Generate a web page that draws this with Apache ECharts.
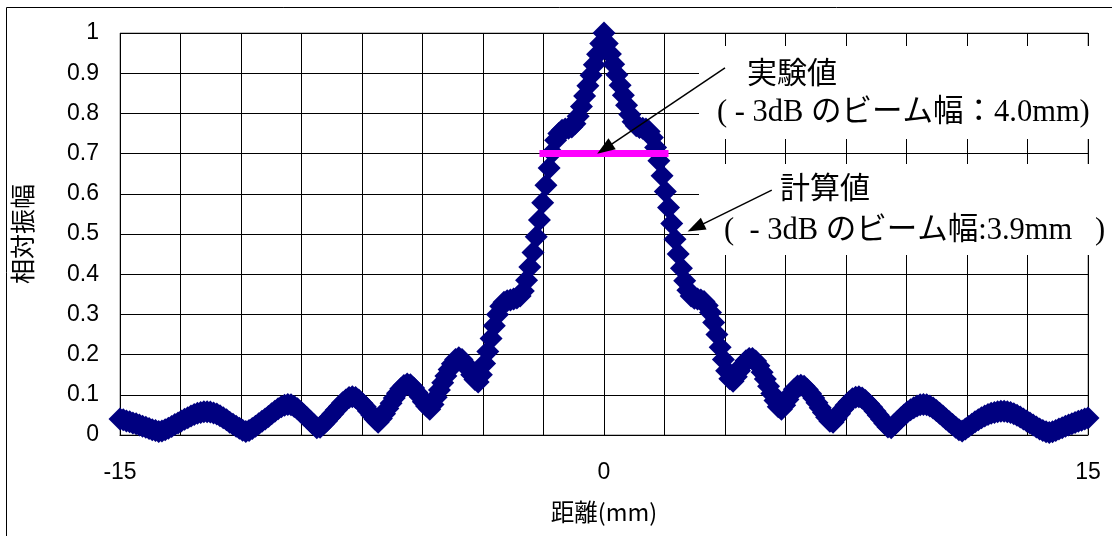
<!DOCTYPE html>
<html>
<head>
<meta charset="utf-8">
<title>相対振幅</title>
<script src="https://cdn.jsdelivr.net/npm/echarts@6/dist/echarts.min.js"></script>
<style>
  html, body { margin: 0; padding: 0; background: #fff; }
  #chart { width: 1112px; height: 536px; }
</style>
</head>
<body>
<div id="chart"></div>
<script>
// Scan step along the distance axis (mm)
const SAMPLE_STEP_MM = 0.1;

// Relative amplitude, -15.0 mm ... -4.0 mm
const leftStartMm = -15.0;
const ampLeft = [
  0.040, 0.038, 0.035, 0.033, 0.030, 0.028, 0.025, 0.022, 0.019, 0.016,
  0.013, 0.011, 0.009, 0.010, 0.013, 0.017, 0.021, 0.026, 0.030, 0.035,
  0.039, 0.043, 0.047, 0.051, 0.054, 0.056, 0.058, 0.058, 0.057, 0.055,
  0.052, 0.048, 0.043, 0.038, 0.032, 0.027, 0.022, 0.017, 0.012, 0.009,
  0.011, 0.016, 0.022, 0.028, 0.034, 0.040, 0.046, 0.053, 0.059, 0.065,
  0.070, 0.074, 0.076, 0.075, 0.071, 0.065, 0.058, 0.050, 0.042, 0.034,
  0.026, 0.018, 0.019, 0.027, 0.035, 0.044, 0.053, 0.062, 0.071, 0.080,
  0.087, 0.093, 0.095, 0.093, 0.087, 0.079, 0.070, 0.060, 0.050, 0.040,
  0.032, 0.041, 0.053, 0.066, 0.079, 0.092, 0.104, 0.115, 0.123, 0.127,
  0.125, 0.117, 0.106, 0.095, 0.083, 0.072, 0.064, 0.076, 0.094, 0.112,
  0.130, 0.147, 0.163, 0.177, 0.188, 0.192, 0.188, 0.177, 0.164, 0.150,
  0.138
];

// Relative amplitude, main lobe -3.9 mm ... 3.9 mm
const mainStartMm = -3.9;
const ampMain = [
  0.132, 0.150, 0.178, 0.208, 0.240, 0.272, 0.300, 0.320, 0.330, 0.334,
  0.336, 0.338, 0.341, 0.346, 0.358, 0.385, 0.418, 0.454, 0.493, 0.535,
  0.578, 0.621, 0.664, 0.703, 0.733, 0.750, 0.758, 0.761, 0.763, 0.766,
  0.774, 0.793, 0.817, 0.843, 0.869, 0.895, 0.921, 0.947, 0.974, 1.000,
  0.974, 0.948, 0.922, 0.896, 0.870, 0.845, 0.820, 0.797, 0.779, 0.769,
  0.765, 0.763, 0.761, 0.755, 0.740, 0.715, 0.682, 0.645, 0.606, 0.566,
  0.526, 0.487, 0.450, 0.415, 0.384, 0.360, 0.346, 0.340, 0.338, 0.336,
  0.332, 0.322, 0.305, 0.280, 0.250, 0.218, 0.188, 0.160, 0.140
];

// Relative amplitude, 4.0 mm ... 15.0 mm
const rightStartMm = 4.0;
const ampRight = [
  0.134, 0.145, 0.160, 0.174, 0.185, 0.190, 0.190, 0.184, 0.172, 0.156,
  0.139, 0.121, 0.103, 0.086, 0.070, 0.064, 0.074, 0.088, 0.102, 0.114,
  0.122, 0.124, 0.121, 0.113, 0.103, 0.092, 0.080, 0.068, 0.056, 0.044,
  0.034, 0.032, 0.042, 0.053, 0.064, 0.074, 0.083, 0.090, 0.094, 0.095,
  0.092, 0.086, 0.078, 0.069, 0.059, 0.049, 0.039, 0.029, 0.020, 0.018,
  0.026, 0.034, 0.042, 0.050, 0.057, 0.063, 0.068, 0.072, 0.075, 0.076,
  0.075, 0.072, 0.067, 0.061, 0.054, 0.047, 0.040, 0.033, 0.026, 0.019,
  0.013, 0.010, 0.015, 0.021, 0.027, 0.033, 0.038, 0.043, 0.047, 0.051,
  0.054, 0.056, 0.058, 0.059, 0.059, 0.058, 0.056, 0.053, 0.049, 0.045,
  0.040, 0.035, 0.030, 0.025, 0.020, 0.015, 0.011, 0.008, 0.006, 0.008,
  0.011, 0.015, 0.018, 0.022, 0.025, 0.028, 0.031, 0.034, 0.037, 0.040,
  0.042
];

// Axis tick labels shown on the distance axis
const xTickLabels = [-15, 0, 15];

// -3 dB beam widths (mm) and the -3 dB level
const expBeamWidthMm = 4.0;
const calcBeamWidthMm = 3.9;
const minus3dBLevel = 0.7;

// Leader arrows [from, to] in axis units (distance mm, relative amplitude)
const arrowExp = [[3.75, 0.913], [0.02, 0.712]];
const arrowCalc = [[5.20, 0.609], [2.84, 0.516]];

const toPoints = (startMm, values) =>
  values.map((v, i) => [+(startMm + i * SAMPLE_STEP_MM).toFixed(1), v]);

const measured = [].concat(
  toPoints(leftStartMm, ampLeft),
  toPoints(mainStartMm, ampMain),
  toPoints(rightStartMm, ampRight)
);

const beamLine = [
  [-expBeamWidthMm / 2, minus3dBLevel],
  [expBeamWidthMm / 2, minus3dBLevel]
];

const SANS = '"Liberation Sans", Arial, sans-serif';
const CJK = '"Noto Sans CJK JP", sans-serif';
const SERIF_CJK = '"Liberation Serif", "Noto Sans CJK JP", serif';

const chart = echarts.init(document.getElementById('chart'));

chart.setOption({
  animation: false,
  backgroundColor: '#ffffff',
  grid: {
    left: 120, top: 33, width: 968, height: 402,
    show: true, borderColor: '#808080', borderWidth: 1,
    backgroundColor: 'transparent'
  },
  xAxis: {
    type: 'value',
    min: -15, max: 15, interval: 1.875,
    name: '距離(mm)',
    nameLocation: 'middle',
    nameGap: 65,
    nameTextStyle: { fontFamily: CJK, fontSize: 23.5, color: '#000' },
    axisLine: { show: true, onZero: false, lineStyle: { color: '#000', width: 1 } },
    axisTick: { show: false },
    axisLabel: {
      margin: 26, fontFamily: SANS, fontSize: 23, color: '#000',
      formatter: v => (xTickLabels.indexOf(v) >= 0 ? String(v) : '')
    },
    splitLine: { show: true, lineStyle: { color: '#000', width: 1 } }
  },
  yAxis: {
    type: 'value',
    min: 0, max: 1, interval: 0.1,
    name: '相対振幅',
    nameLocation: 'middle',
    nameRotate: 90,
    nameGap: 85,
    nameTextStyle: { fontFamily: CJK, fontSize: 25, color: '#000' },
    axisLine: { show: true, lineStyle: { color: '#000', width: 1 } },
    axisTick: { show: false },
    axisLabel: { margin: 21, fontFamily: SANS, fontSize: 23, color: '#000' },
    splitLine: { show: true, lineStyle: { color: '#000', width: 1 } }
  },
  graphic: [
    {
      type: 'rect', z: -1, silent: true,
      shape: { x: 6.5, y: 7.5, width: 1200, height: 600 },
      style: { fill: 'none', stroke: '#000', lineWidth: 1 }
    },
    {
      type: 'rect', z: 1, silent: true,
      shape: { x: 699, y: 46, width: 400, height: 93 },
      style: { fill: '#fff' }
    },
    {
      type: 'rect', z: 1, silent: true,
      shape: { x: 699, y: 164, width: 413, height: 91 },
      style: { fill: '#fff' }
    },
    {
      type: 'text', z: 10, silent: true,
      style: { text: '実験値', x: 747, y: 72, verticalAlign: 'middle',
               fontFamily: CJK, fontSize: 30, fill: '#000' }
    },
    {
      type: 'text', z: 10, silent: true,
      style: { text: '( - 3dB のビーム幅：' + expBeamWidthMm.toFixed(1) + 'mm)',
               x: 717, y: 113, verticalAlign: 'middle',
               fontFamily: SERIF_CJK, fontSize: 30.5, fill: '#000' }
    },
    {
      type: 'text', z: 10, silent: true,
      style: { text: '計算値', x: 780, y: 187, verticalAlign: 'middle',
               fontFamily: CJK, fontSize: 30, fill: '#000' }
    },
    {
      type: 'text', z: 10, silent: true,
      style: { text: '(  - 3dB のビーム幅:' + calcBeamWidthMm.toFixed(1) + 'mm   )',
               x: 724, y: 231, verticalAlign: 'middle',
               fontFamily: SERIF_CJK, fontSize: 30.5, fill: '#000' }
    }
  ],
  series: [
    {
      name: '相対振幅',
      type: 'scatter',
      symbol: 'diamond',
      symbolSize: 23,
      itemStyle: { color: '#000080', opacity: 1 },
      emphasis: { disabled: true },
      silent: true,
      z: 2,
      data: measured
    },
    {
      name: '-3dB',
      type: 'line',
      symbol: 'none',
      silent: true,
      z: 3,
      lineStyle: { color: '#FF00FF', width: 7, cap: 'butt' },
      data: beamLine
    },
    {
      name: 'arrows',
      type: 'line',
      data: [],
      z: 4,
      silent: true,
      markLine: {
        silent: true,
        animation: false,
        symbol: ['none', 'triangle'],
        symbolSize: [13, 18],
        label: { show: false },
        emphasis: { disabled: true },
        lineStyle: { color: '#000', width: 1.5, type: 'solid' },
        itemStyle: { color: '#000' },
        data: [
          [{ coord: arrowExp[0] }, { coord: arrowExp[1] }],
          [{ coord: arrowCalc[0] }, { coord: arrowCalc[1] }]
        ]
      }
    }
  ]
});
</script>
</body>
</html>
